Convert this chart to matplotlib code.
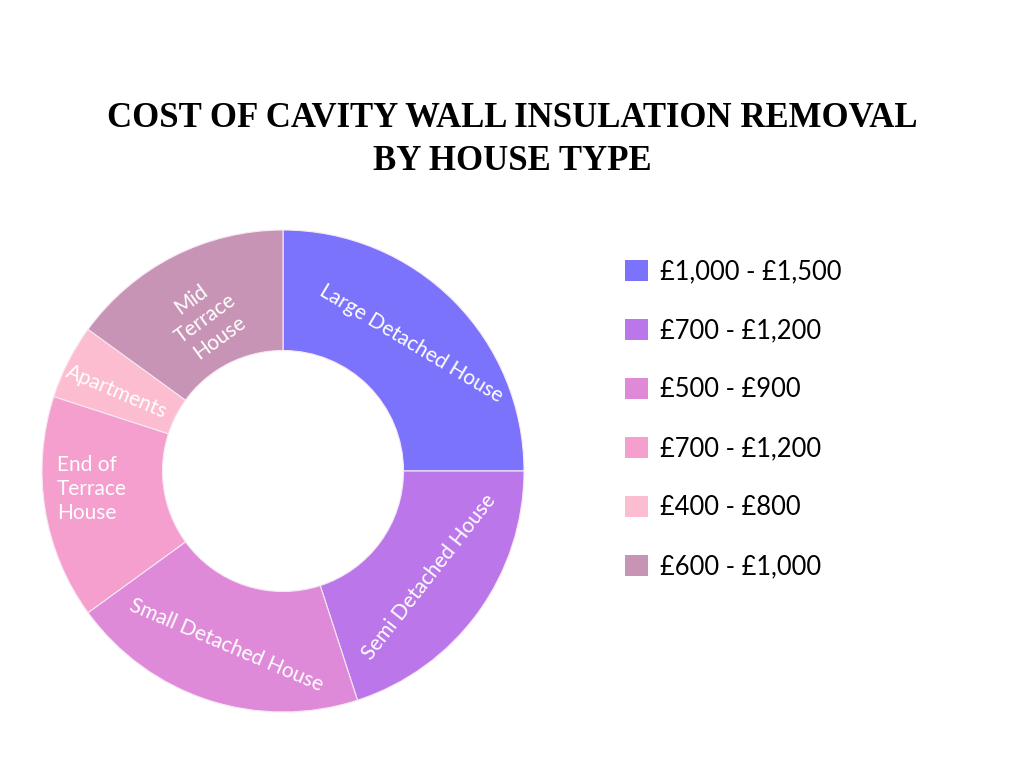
import numpy as np
import matplotlib
matplotlib.use("Agg")
import matplotlib.pyplot as plt

# data
house_types = ["Large Detached House", "Semi Detached House", "Small Detached House",
               "End of\nTerrace\nHouse", "Apartments", "Mid\nTerrace\nHouse"]
shares = [25, 20, 20, 15, 5, 15]
price_ranges = ["£1,000 - £1,500", "£700 - £1,200", "£500 - £900",
                "£700 - £1,200", "£400 - £800", "£600 - £1,000"]
colors = ["#7b73fb", "#bb77e9", "#df89d9", "#f49fce", "#fdbdd0", "#c894b6"]

# label placement styles (rotation, radius, angle nudge)
label_rot = [-31, 52, -23, 0, -23, 36]
label_r = [181, 181, 183, 192, 184, 171]
label_nudge = [0, 0, 0, -3.5, 1.5, 0]

fig = plt.figure(figsize=(10.24, 7.68), dpi=100)
ax = fig.add_axes([0, 0, 1, 1])

cx, cy, R = 283, 768 - 471, 241
wedges, _ = ax.pie(shares, colors=colors, startangle=90, counterclock=False,
                   center=(cx, cy), radius=R,
                   wedgeprops=dict(width=R * 0.5, edgecolor="#f6e8f4", linewidth=0.8))
ax.set_xlim(0, 1024)
ax.set_ylim(0, 768)
ax.set_aspect("equal")
ax.axis("off")

for w, lab, rot, r, nd in zip(wedges, house_types, label_rot, label_r, label_nudge):
    mid = np.deg2rad((w.theta1 + w.theta2) / 2 + nd)
    x = cx + r * np.cos(mid)
    y = cy + r * np.sin(mid)
    ma = "left" if lab.startswith("End") else "center"
    ax.text(x, y, lab, rotation=rot, ha="center", va="center", multialignment=ma,
            color="white", fontsize=15, family="Lato", linespacing=1.25,
            rotation_mode="anchor")

fig.text(0.5, 1 - 140 / 768, "COST OF CAVITY WALL INSULATION REMOVAL\nBY HOUSE TYPE",
         ha="center", va="center", fontsize=25, fontweight="bold",
         family="Liberation Serif", linespacing=1.4, color="black")

leg = fig.legend(wedges, price_ranges, loc="upper left",
                 bbox_to_anchor=(625 / 1024, 1 - 259 / 768),
                 frameon=False, handlelength=0.9, handleheight=0.9,
                 handletextpad=0.47, labelspacing=1.33, borderpad=0, borderaxespad=0,
                 prop={"family": "Lato", "size": 18.4})
for h in leg.legend_handles:
    h.set_edgecolor("none")

fig.savefig("out.png", dpi=100, facecolor="white")
